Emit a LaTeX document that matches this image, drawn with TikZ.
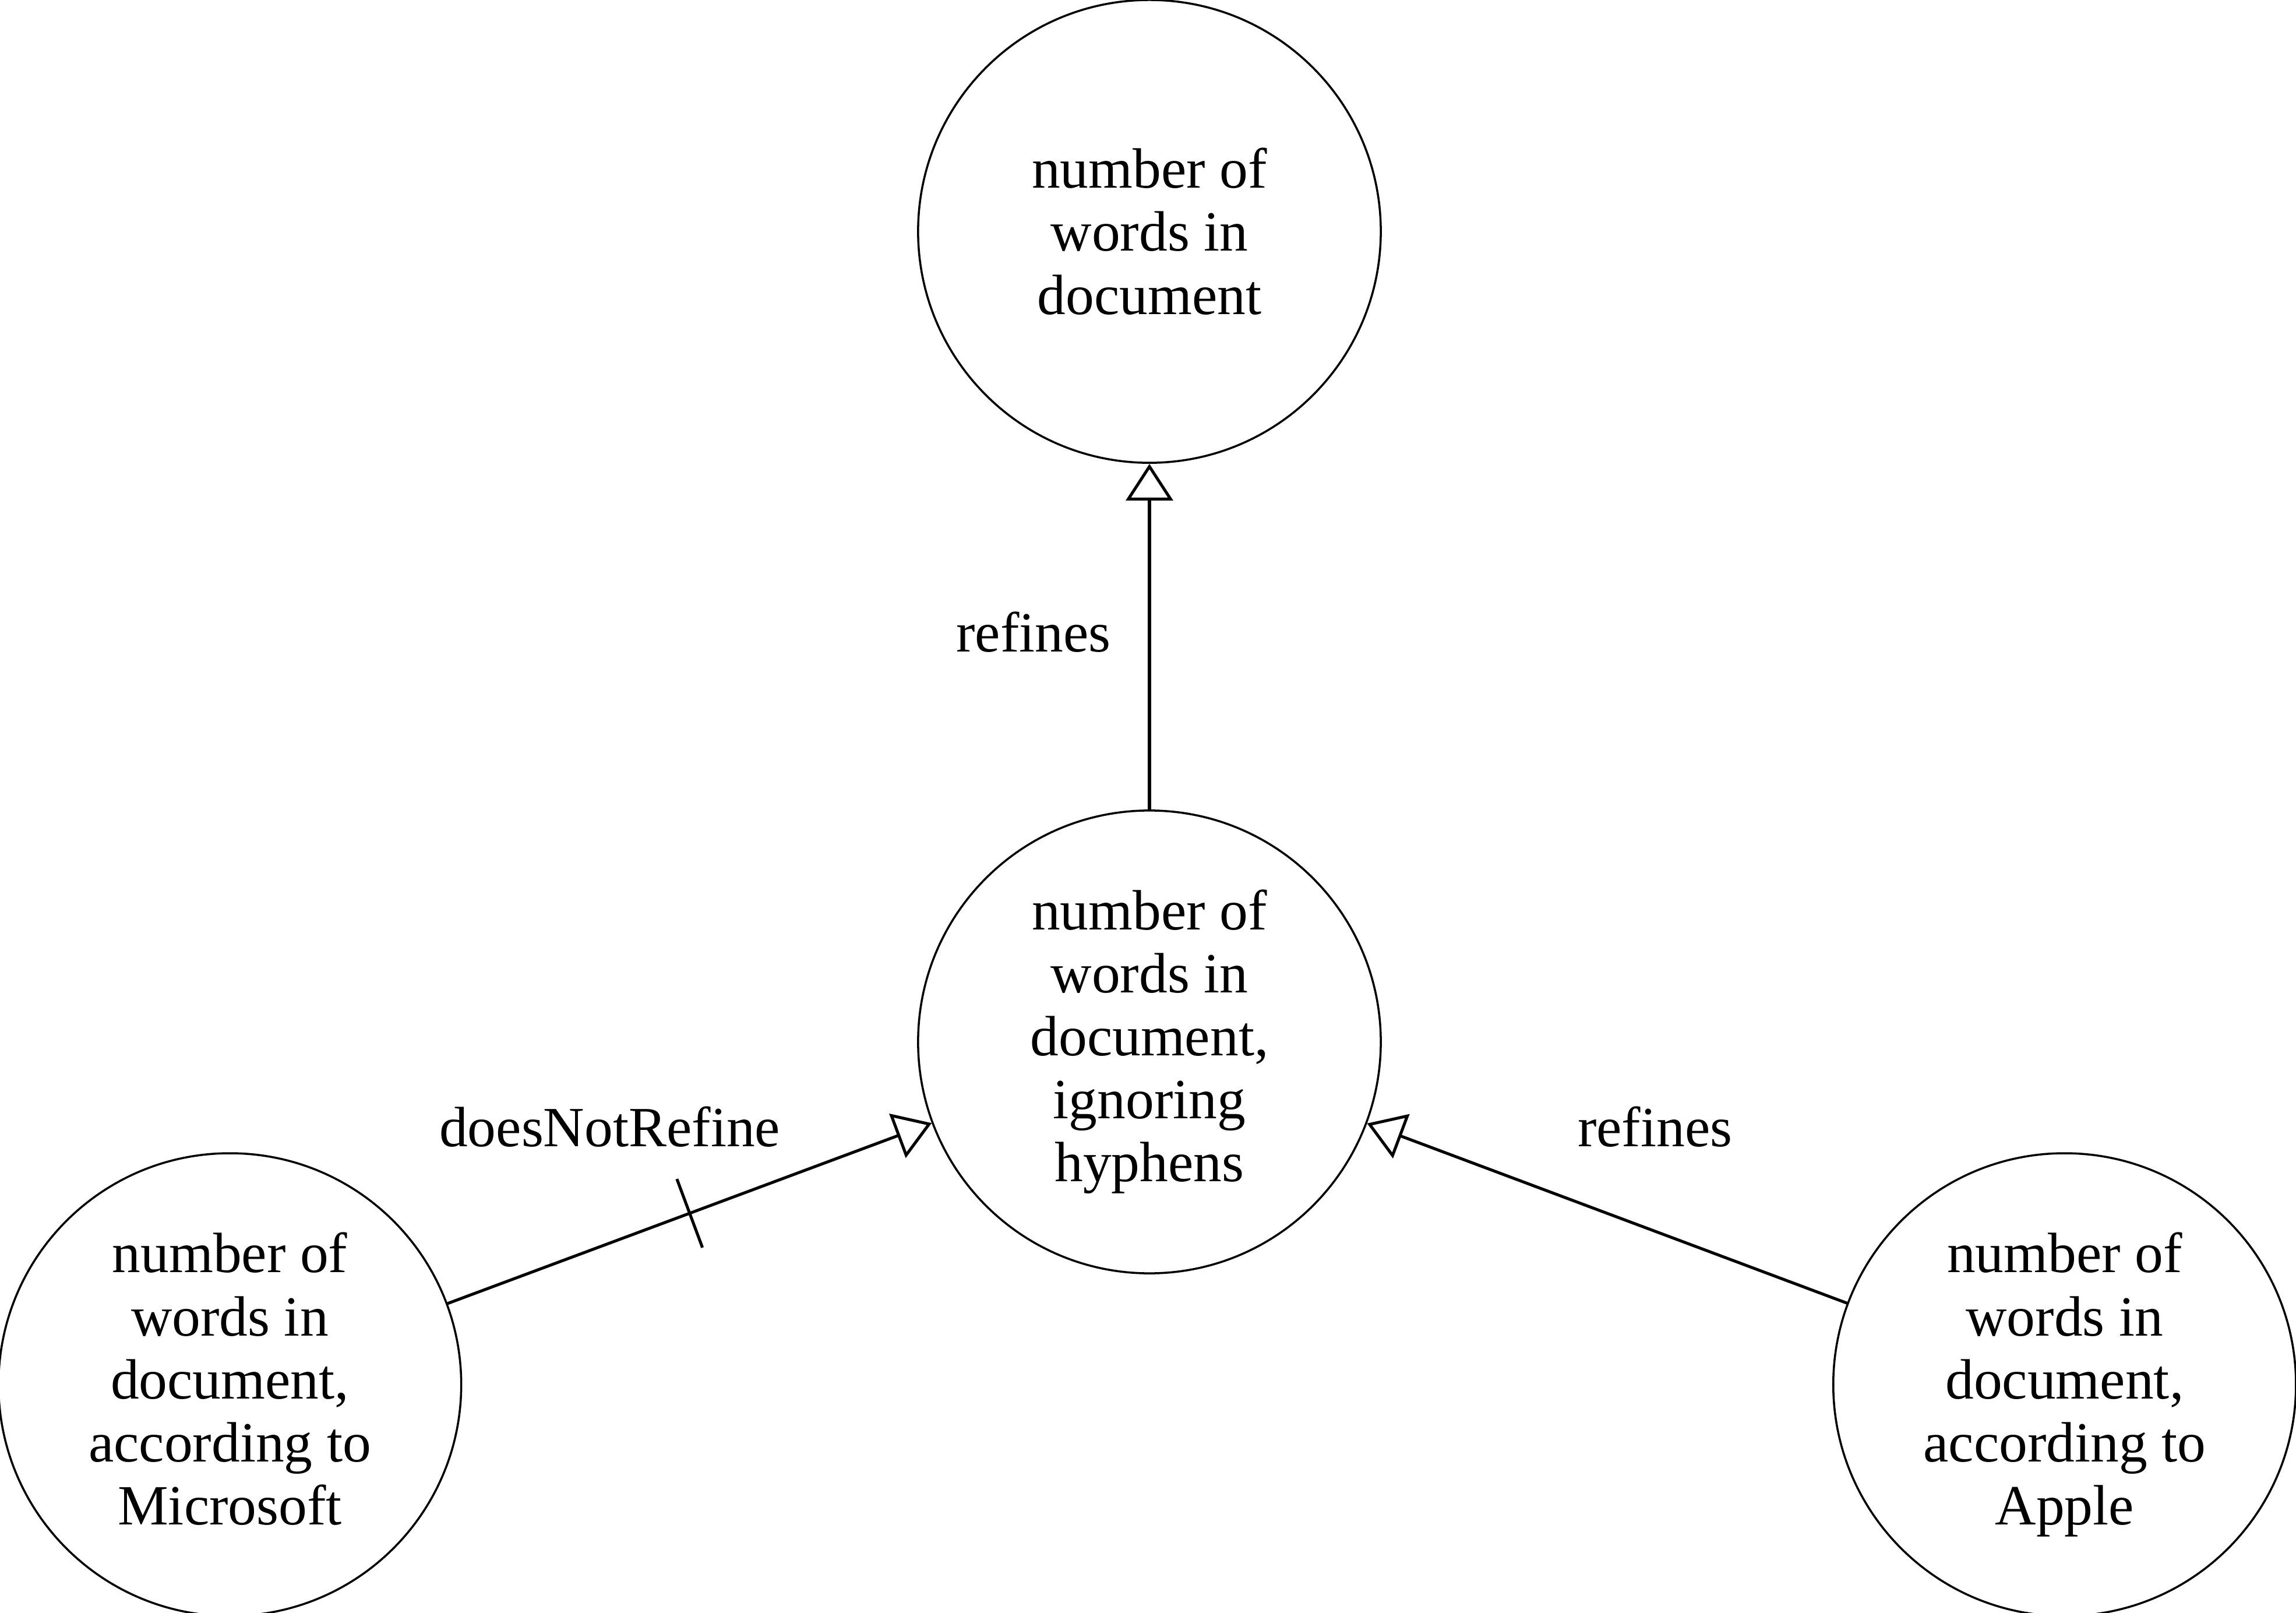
\documentclass[tikz,border=0pt]{standalone}
\usepackage{fontspec}
\setmainfont{Liberation Serif}
\usetikzlibrary{positioning, arrows.meta}

\begin{document}
\begin{tikzpicture}[c/.style={circle, draw, line width=0.35pt, minimum size=79pt, inner sep=0pt, align=center, font=\fontsize{9.7pt}{10.75pt}\selectfont},
	ref/.style={-{Triangle[open, length=6.25pt, width=8pt]}, line width=0.5pt},
	lbl/.style={font=\fontsize{9.7pt}{10.75pt}\selectfont},
	tk/.style={sloped, inner sep=0pt, minimum width=0pt, minimum height=12pt}]
		\useasboundingbox (-196.25pt,-235.75pt) rectangle (195.75pt,39.5pt);
		\node[c] (doc) {number of\\words in\\document};
		\node[c, below=59pt of doc] (hyph) {number of\\words in\\document,\\ignoring\\hyphens};
		\node[c, below left=58.5pt and 157pt of hyph.center, anchor=center] (mic) {number of\\words in\\document,\\according to\\Microsoft\vphantom{p}};
		\node[c, below right=58.5pt and 156.25pt of hyph.center, anchor=center] (apl) {number of\\words in\\document,\\according to\\Apple};

		\path[ref] (hyph) edge node [lbl, left=3pt, yshift=0.75pt] {refines} (doc);
		\path[ref] (mic) edge node [tk, midway] (cut) {} node [lbl, pos=0.335, above=12.75pt] {doesNotRefine} (hyph);
		\path[ref] (apl) edge node [lbl, pos=0.4, above=10.75pt] {refines} (hyph);
		\draw[line width=0.5pt] (cut.north) -- (cut.south);
	\end{tikzpicture}
\end{document}
